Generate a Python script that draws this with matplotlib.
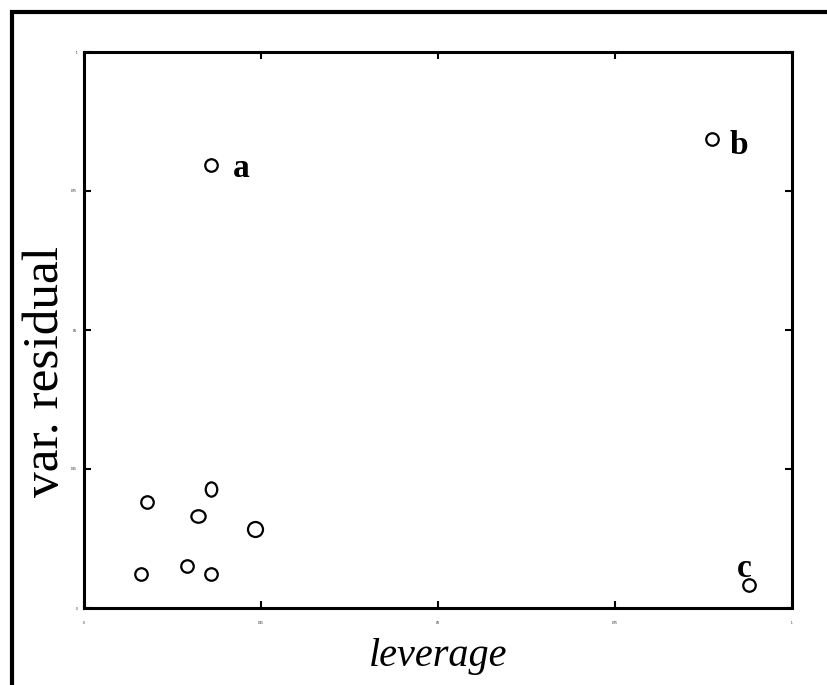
import matplotlib.pyplot as plt
from matplotlib.markers import MarkerStyle
from matplotlib.patches import Rectangle
from matplotlib.transforms import Affine2D

# leverage vs. residual variance for the sample points
leverage = [0.179, 0.887, 0.939, 0.089, 0.179, 0.161, 0.242, 0.081, 0.146, 0.179]
var_residual = [0.797, 0.844, 0.041, 0.191, 0.214, 0.165, 0.142, 0.061, 0.076, 0.061]
# marker stretch (x, y) per point; a couple of them are drawn a bit oval
marker_scale = [(1, 1), (1, 1), (1, 1), (1, 1), (0.92, 1.14), (1.14, 1.0),
                (1.2, 1.2), (1, 1), (1, 1), (1, 1)]

# labelled outliers: index into the arrays above, text, offset in pixels
outliers = [(0, 'a', (22, -12)), (1, 'b', (18, -15)), (2, 'c', (-12, 8))]

ticks = [0, 0.25, 0.5, 0.75, 1]
tick_labels = ['0', '0.25', '0.5', '0.75', '1']

fig = plt.figure(figsize=(8.28, 6.85), dpi=100)
ax = fig.add_axes([84 / 828, 1 - 608 / 685, 708 / 828, 556 / 685])

for x, y, (sx, sy) in zip(leverage, var_residual, marker_scale):
    m = MarkerStyle('o', transform=Affine2D().scale(sx, sy))
    ax.plot(x, y, marker=m, ls='none', ms=9, mfc='none', mec='black', mew=1.6)

for i, txt, off in outliers:
    ax.annotate(txt, (leverage[i], var_residual[i]), xytext=off,
                textcoords='offset pixels', va='baseline', ha='left',
                family='Liberation Serif', fontweight='bold', fontsize=24)

ax.set_xlim(0, 1)
ax.set_ylim(0, 1)
ax.set_xticks(ticks)
ax.set_yticks(ticks)
ax.set_xticklabels(tick_labels, fontsize=2)
ax.set_yticklabels(tick_labels, fontsize=2)
ax.tick_params(direction='in', length=5, width=1.5, top=True, right=True, pad=5)
ax.tick_params(axis='x', pad=9)
for sp in ax.spines.values():
    sp.set_linewidth(2.2)

ax.set_xlabel('leverage', family='Liberation Serif', style='italic', fontsize=29, labelpad=10)
ax.set_ylabel('var. residual', family='Liberation Serif', fontsize=37)
ax.yaxis.set_label_coords(-0.021, 0.4245)

# frame around the figure
fig.patches.append(Rectangle((12 / 828, -0.05), 1.0, 1 - 12 / 685 + 0.05,
                             transform=fig.transFigure, fill=False,
                             edgecolor='black', linewidth=3))

fig.savefig('out.png', dpi=100)
